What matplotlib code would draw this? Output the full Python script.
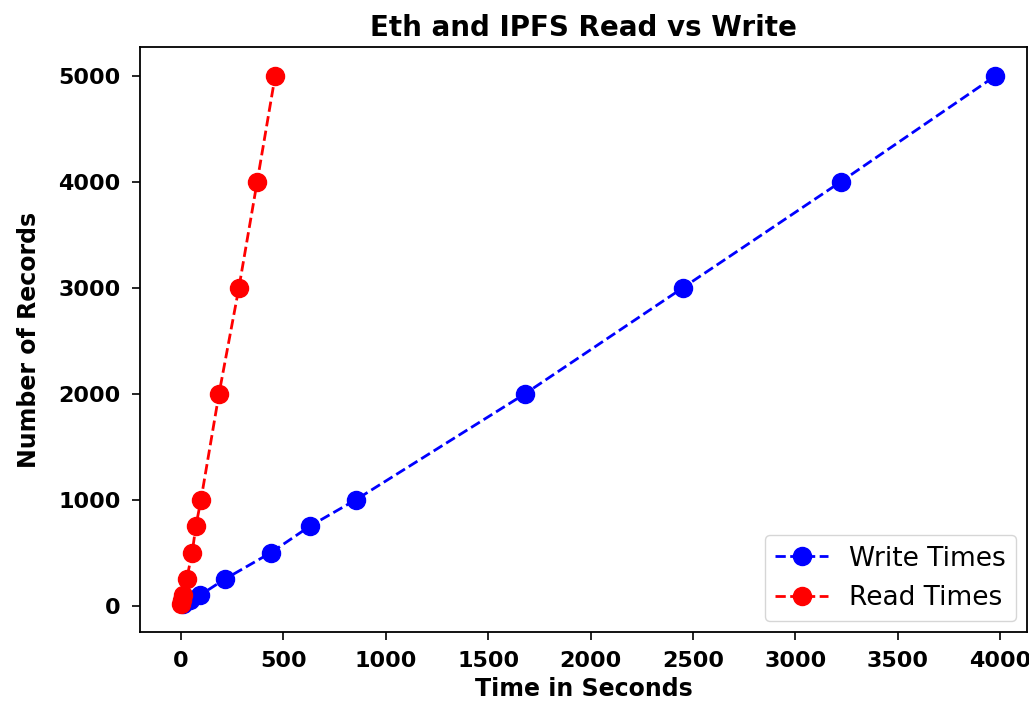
import matplotlib
matplotlib.use('Agg')
import matplotlib.pyplot as plt

records = [10, 50, 100, 250, 500, 750, 1000, 2000, 3000, 4000, 5000]
write_times = [8, 45, 95, 215, 440, 630, 855, 1680, 2450, 3220, 3975]
read_times = [1, 4, 9, 28, 55, 73, 98, 186, 283, 372, 460]

fig = plt.figure(figsize=(10.29, 7.19), dpi=100)
ax = fig.add_axes([0.136, 0.121, 0.862, 0.813])

ax.plot(write_times, records, 'b--o', markersize=13, linewidth=2, label='Write Times')
ax.plot(read_times, records, 'r--o', markersize=13, linewidth=2, label='Read Times')

ax.set_xlim(-200, 4130)
ax.set_ylim(-250, 5270)
ax.set_xticks(range(0, 4001, 500))
ax.set_yticks(range(0, 5001, 1000))

ax.tick_params(length=6, width=1.2, pad=8, labelsize=16)
for lab in ax.get_xticklabels() + ax.get_yticklabels():
    lab.set_fontweight('bold')
for s in ax.spines.values():
    s.set_linewidth(1.3)

plt.title('Eth and IPFS Read vs Write', fontsize=20, fontweight='bold', pad=8)
plt.xlabel('Time in Seconds', fontsize=17, fontweight='bold', labelpad=4)
plt.ylabel('Number of Records', fontsize=17, fontweight='bold', labelpad=12)
ax.legend(loc='lower right', fontsize=19, numpoints=1, handlelength=2,
          borderaxespad=0.4)

plt.savefig('out.png', dpi=100)
